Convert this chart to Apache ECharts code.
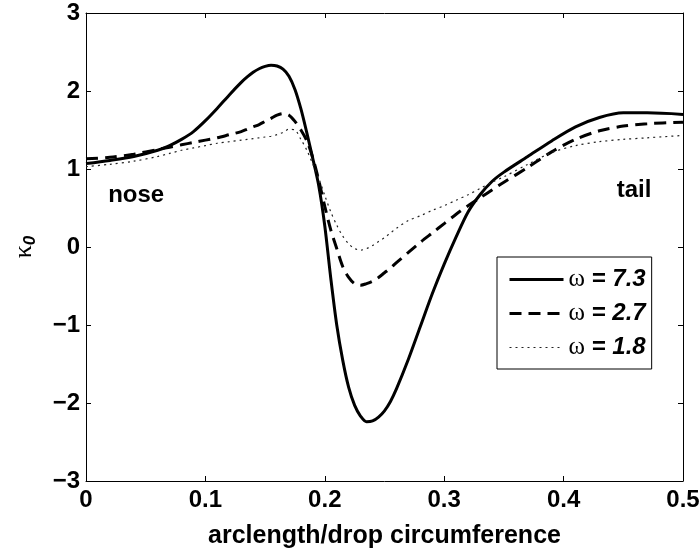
<!DOCTYPE html>
<html>
<head>
<meta charset="utf-8">
<script src="https://cdn.jsdelivr.net/npm/echarts@6/dist/echarts.min.js"></script>
<style>html,body{margin:0;padding:0;background:#fff}#c{width:700px;height:549px}</style>
</head>
<body>
<div id="c"></div>
<script>
// arclength / drop circumference
const xs = [0, 0.02, 0.04, 0.06, 0.07, 0.08, 0.09, 0.1, 0.11, 0.12, 0.13, 0.135, 0.14, 0.145, 0.15, 0.155, 0.16, 0.165, 0.17, 0.175, 0.18, 0.185, 0.19, 0.195, 0.2, 0.205, 0.21, 0.215, 0.22, 0.225, 0.23, 0.235, 0.24, 0.245, 0.25, 0.255, 0.26, 0.27, 0.28, 0.29, 0.3, 0.31, 0.32, 0.33, 0.34, 0.35, 0.37, 0.39, 0.41, 0.43, 0.45, 0.47, 0.5];
// kappa_0 for omega = 7.3
const k73 = [1.07, 1.11, 1.16, 1.24, 1.30, 1.38, 1.48, 1.62, 1.78, 1.95, 2.11, 2.18, 2.24, 2.285, 2.315, 2.33, 2.32, 2.28, 2.19, 2.02, 1.77, 1.46, 1.13, 0.78, 0.27, -0.40, -1.00, -1.45, -1.80, -2.03, -2.17, -2.24, -2.23, -2.18, -2.10, -1.98, -1.82, -1.44, -1.02, -0.60, -0.22, 0.13, 0.45, 0.67, 0.84, 0.96, 1.16, 1.36, 1.54, 1.66, 1.72, 1.72, 1.70];
// kappa_0 for omega = 2.7
const k27 = [1.13, 1.15, 1.19, 1.25, 1.28, 1.31, 1.34, 1.37, 1.40, 1.44, 1.48, 1.51, 1.54, 1.57, 1.61, 1.65, 1.69, 1.71, 1.69, 1.61, 1.50, 1.36, 1.14, 0.85, 0.52, 0.22, -0.02, -0.25, -0.39, -0.47, -0.49, -0.47, -0.44, -0.39, -0.33, -0.27, -0.20, -0.07, 0.06, 0.18, 0.30, 0.42, 0.53, 0.63, 0.73, 0.83, 1.02, 1.22, 1.38, 1.49, 1.55, 1.58, 1.60];
// kappa_0 for omega = 1.8
const k18 = [1.03, 1.06, 1.10, 1.16, 1.20, 1.24, 1.27, 1.30, 1.33, 1.35, 1.37, 1.38, 1.39, 1.40, 1.41, 1.42, 1.44, 1.47, 1.51, 1.50, 1.38, 1.24, 1.06, 0.88, 0.66, 0.45, 0.28, 0.14, 0.04, -0.02, -0.04, -0.02, 0.02, 0.07, 0.12, 0.18, 0.24, 0.34, 0.40, 0.47, 0.53, 0.60, 0.67, 0.75, 0.83, 0.90, 1.06, 1.21, 1.30, 1.35, 1.38, 1.40, 1.43];
const seriesNames = ['ω = 7.3', 'ω = 2.7', 'ω = 1.8'];
const xTicks = [0, 0.1, 0.2, 0.3, 0.4, 0.5];
const yTicks = [-3, -2, -1, 0, 1, 2, 3];
const annotations = [{ name: 'nose', x: 0.042, y: 0.66 }, { name: 'tail', x: 0.459, y: 0.72 }];

const pairs = ys => xs.map((x, i) => [x, ys[i]]);
const FONT = 'Liberation Sans';
const tickLabel = { fontFamily: FONT, fontWeight: 'bold', fontSize: 24, color: '#000' };
const styles = [
  { color: '#000', width: 3, type: 'solid' },
  { color: '#000', width: 3, type: [12, 7] },
  { color: '#222', width: 1.2, type: [2, 4] }
];

const chart = echarts.init(document.getElementById('c'), null, { renderer: 'canvas' });
const axisCommon = {
  type: 'value',
  axisLine: { show: true, onZero: false, lineStyle: { color: '#000', width: 1 } },
  axisTick: { show: true, inside: true, length: 5, lineStyle: { color: '#000', width: 1 } },
  splitLine: { show: false }
};
chart.setOption({
  animation: false,
  backgroundColor: '#fff',
  grid: { left: 86, right: 17, top: 13, bottom: 68, containLabel: false, outerBoundsMode: 'none' },
  xAxis: [
    Object.assign({}, axisCommon, {
      min: xTicks[0], max: xTicks[xTicks.length - 1], interval: 0.1,
      position: 'bottom',
      name: 'arclength/drop circumference', nameLocation: 'middle', nameGap: 43,
      nameTextStyle: { fontFamily: FONT, fontWeight: 'bold', fontSize: 25, color: '#000' },
      axisLabel: Object.assign({ margin: 7, formatter: v => String(+v.toFixed(1)) }, tickLabel)
    }),
    Object.assign({}, axisCommon, {
      min: xTicks[0], max: xTicks[xTicks.length - 1], interval: 0.1,
      position: 'top', axisLabel: { show: false }
    })
  ],
  yAxis: [
    Object.assign({}, axisCommon, {
      min: yTicks[0], max: yTicks[yTicks.length - 1], interval: 1,
      position: 'left',
      name: '{k|κ}{s|0}', nameLocation: 'middle', nameGap: 47, nameRotate: 90,
      nameTextStyle: {
        rich: {
          k: { fontFamily: 'Liberation Serif', fontSize: 26, color: '#000', lineHeight: 30, verticalAlign: 'middle' },
          s: { fontFamily: FONT, fontSize: 17, fontWeight: 'bold', fontStyle: 'italic', color: '#000', lineHeight: 30, verticalAlign: 'bottom' }
        }
      },
      axisLabel: Object.assign({ margin: 6, formatter: v => v < 0 ? '\u2212' + Math.abs(v) : String(v) }, tickLabel)
    }),
    Object.assign({}, axisCommon, {
      min: yTicks[0], max: yTicks[yTicks.length - 1], interval: 1,
      position: 'right', axisLabel: { show: false }
    })
  ],
  legend: {
    orient: 'vertical',
    left: 497, top: 257,
    padding: [10, 6, 9, 11],
    itemWidth: 54, itemHeight: 14, itemGap: 9,
    borderColor: '#000', borderWidth: 1, backgroundColor: '#fff',
    itemStyle: { opacity: 0 },
    data: seriesNames.map((n, i) => ({ name: n, lineStyle: styles[i] })),
    formatter: name => {
      const p = name.split(' = ');
      return '{w|ω}{b| = ' + p[1] + '}';
    },
    textStyle: {
      rich: {
        w: { fontFamily: 'Liberation Serif', fontSize: 25, color: '#000', lineHeight: 28 },
        b: { fontFamily: FONT, fontSize: 24, fontWeight: 'bold', fontStyle: 'italic', color: '#000', lineHeight: 28 }
      }
    }
  },
  series: [
    {
      name: seriesNames[0], type: 'line', data: pairs(k73), symbol: 'none', smooth: 0.3,
      lineStyle: styles[0], itemStyle: { color: '#000' },
      markPoint: {
        symbol: 'circle', symbolSize: 1, itemStyle: { color: 'rgba(0,0,0,0)' },
        label: { show: true, position: 'inside', fontFamily: FONT, fontWeight: 'bold', fontSize: 24, color: '#000', formatter: p => p.name },
        data: annotations.map(a => ({ name: a.name, coord: [a.x, a.y] }))
      }
    },
    {
      name: seriesNames[1], type: 'line', data: pairs(k27), symbol: 'none', smooth: 0.3,
      lineStyle: styles[1], itemStyle: { color: '#000' }
    },
    {
      name: seriesNames[2], type: 'line', data: pairs(k18), symbol: 'none', smooth: 0.3,
      lineStyle: styles[2], itemStyle: { color: '#222' }
    }
  ]
});
</script>
</body>
</html>
